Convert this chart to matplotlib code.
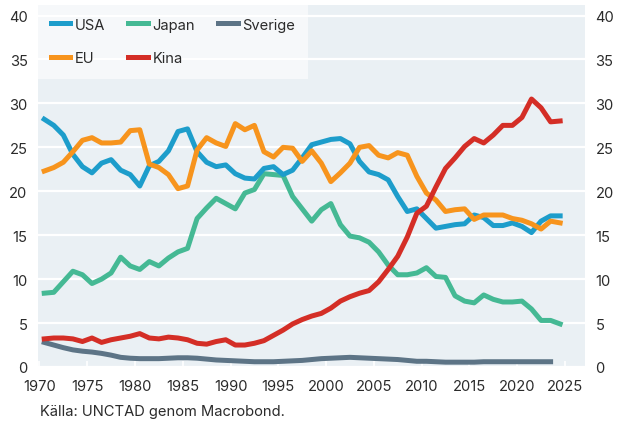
import matplotlib
matplotlib.use('Agg')
import matplotlib.pyplot as plt
from matplotlib.patches import Rectangle

plt.rcParams['font.family'] = ['Inter', 'DejaVu Sans']

# data, share of world (%)
years = list(range(1970, 2025))
usa = [28.2, 27.5, 26.4, 24.2, 22.8, 22.1, 23.2, 23.6, 22.4, 21.9,
       20.6, 22.9, 23.4, 24.6, 26.8, 27.1, 24.5, 23.3, 22.8, 23.0,
       22.0, 21.5, 21.4, 22.6, 22.8, 21.9, 22.4, 23.8, 25.3, 25.6,
       25.9, 26.0, 25.4, 23.4, 22.2, 21.9, 21.3, 19.4, 17.7, 18.0,
       16.9, 15.8, 16.0, 16.2, 16.3, 17.3, 17.0, 16.1, 16.1, 16.4,
       16.0, 15.3, 16.6, 17.2, 17.2]
eu = [22.3, 22.7, 23.3, 24.5, 25.8, 26.1, 25.5, 25.5, 25.6, 26.9,
      27.0, 23.1, 22.7, 21.9, 20.3, 20.6, 24.7, 26.1, 25.5, 25.1,
      27.7, 27.0, 27.5, 24.5, 23.9, 25.0, 24.9, 23.4, 24.6, 23.2,
      21.1, 22.1, 23.2, 25.0, 25.2, 24.1, 23.8, 24.4, 24.1, 21.7,
      19.8, 19.0, 17.7, 17.9, 18.0, 16.8, 17.3, 17.3, 17.3, 16.9,
      16.7, 16.3, 15.7, 16.6, 16.4]
japan = [8.4, 8.5, 9.7, 10.9, 10.5, 9.5, 10.0, 10.7, 12.5, 11.5,
         11.1, 12.0, 11.5, 12.4, 13.1, 13.5, 16.9, 18.1, 19.2, 18.6,
         18.0, 19.8, 20.2, 22.0, 21.9, 21.8, 19.4, 18.0, 16.6, 17.9,
         18.6, 16.2, 14.9, 14.7, 14.2, 13.1, 11.6, 10.5, 10.5, 10.7,
         11.3, 10.3, 10.2, 8.1, 7.5, 7.3, 8.2, 7.7, 7.4, 7.4,
         7.5, 6.6, 5.3, 5.3, 4.9]
kina = [3.2, 3.3, 3.3, 3.2, 2.9, 3.3, 2.8, 3.1, 3.3, 3.5,
        3.8, 3.3, 3.2, 3.4, 3.3, 3.1, 2.7, 2.6, 2.9, 3.1,
        2.5, 2.5, 2.7, 3.0, 3.6, 4.2, 4.9, 5.4, 5.8, 6.1,
        6.7, 7.5, 8.0, 8.4, 8.7, 9.7, 11.1, 12.6, 14.8, 17.5,
        18.3, 20.5, 22.6, 23.8, 25.1, 26.0, 25.5, 26.4, 27.5, 27.5,
        28.4, 30.5, 29.5, 27.9, 28.0]
sverige_years = list(range(1970, 2024))
sverige = [2.8, 2.5, 2.2, 1.95, 1.8, 1.7, 1.55, 1.35, 1.1, 1.0,
           0.95, 0.95, 0.95, 1.0, 1.05, 1.05, 1.0, 0.9, 0.8, 0.75,
           0.7, 0.65, 0.6, 0.6, 0.6, 0.65, 0.7, 0.75, 0.85, 0.95,
           1.0, 1.05, 1.1, 1.05, 1.0, 0.95, 0.9, 0.85, 0.75, 0.65,
           0.65, 0.6, 0.55, 0.55, 0.55, 0.55, 0.6, 0.6, 0.6, 0.6,
           0.6, 0.6, 0.6, 0.6]

xticks = [1970, 1975, 1980, 1985, 1990, 1995, 2000, 2005, 2010, 2015, 2020, 2025]
yticks = [0, 5, 10, 15, 20, 25, 30, 35, 40]

colors = {'USA': '#1d9dcb', 'EU': '#f7941d', 'Japan': '#45b994',
          'Kina': '#d42e26', 'Sverige': '#5d7486'}

fs = 10.6
fig = plt.figure(figsize=(6.24, 4.27), dpi=100)
ax = fig.add_axes([38 / 624, 59 / 427, 547 / 624, 362 / 427])
ax.set_facecolor('#eaf0f4')

# annual values drawn at mid-year
def mid(ys):
    return [y + 0.5 for y in ys]

lw = 3.6
ax.plot(mid(sverige_years), sverige, color=colors['Sverige'], lw=lw, label='Sverige', zorder=3)
ax.plot(mid(years), japan, color=colors['Japan'], lw=lw, label='Japan', zorder=3)
ax.plot(mid(years), usa, color=colors['USA'], lw=lw, label='USA', zorder=3)
ax.plot(mid(years), eu, color=colors['EU'], lw=lw, label='EU', zorder=3)
ax.plot(mid(years), kina, color=colors['Kina'], lw=lw, label='Kina', zorder=3)

ax.set_xlim(1969.85, 2027.1)
ax.set_ylim(0, 41.2)
ax.set_xticks(xticks)
ax.set_yticks(yticks)
ax.yaxis.grid(True, color='white', lw=1.6, zorder=0.5)
ax.set_axisbelow(True)
for s in ax.spines.values():
    s.set_visible(False)

ax.tick_params(axis='y', left=False, right=False, labelleft=True, labelright=True,
               labelsize=fs, colors='#2b2b2b', pad=4)
ax.tick_params(axis='x', direction='in', length=4, width=1.2, color='white',
               labelsize=fs, labelcolor='#2b2b2b', pad=9)

# legend panel
ax.add_patch(Rectangle((0, 1 - 74 / 362), 270 / 547, 74 / 362, transform=ax.transAxes,
                       facecolor='#f6f8fa', edgecolor='none', zorder=0.2))

h = {l.get_label(): l for l in ax.get_lines()}
order = ['USA', 'EU', 'Japan', 'Kina', 'Sverige']
leg = ax.legend([h[k] for k in order], order, ncol=3, loc='upper left',
                bbox_to_anchor=(0, 1), borderaxespad=0, frameon=False,
                fontsize=fs, handlelength=1.35, handletextpad=0.3,
                columnspacing=1.55, labelspacing=1.35, borderpad=0.85)
for t in leg.get_texts():
    t.set_color('#2b2b2b')

fig.text(40 / 624, 15 / 427, 'Källa: UNCTAD genom Macrobond.', fontsize=fs,
         color='#2b2b2b', va='center', ha='left')

fig.savefig('out.png', dpi=100, facecolor='white')
